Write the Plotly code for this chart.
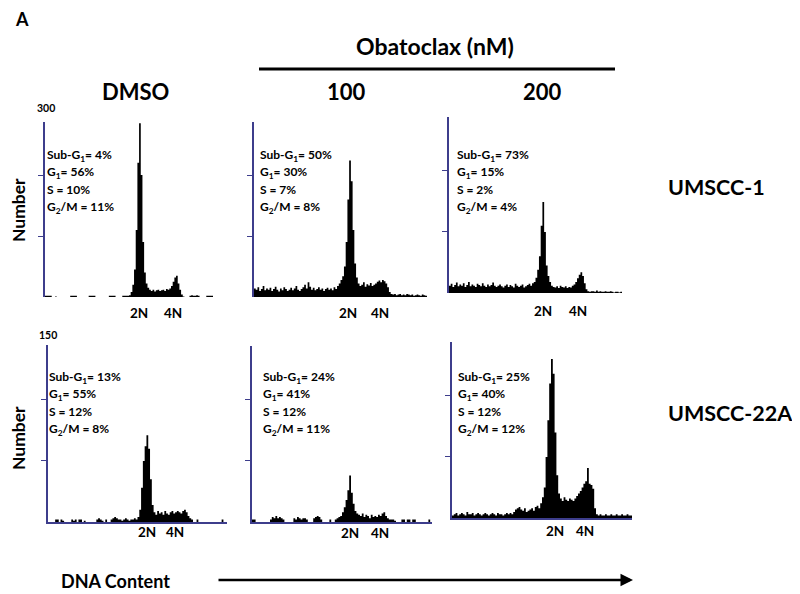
import plotly.graph_objects as go

# ---------------- data ----------------
# DNA-content histograms, 100 channels per panel (2N peak near channel 55, 4N near 75)
hist_dmso_1 = [
    2, 2, 2, 2, 0, 0, 1, 0, 0, 0,
    0, 0, 0, 0, 0, 2, 2, 2, 2, 0,
    0, 0, 0, 0, 0, 0, 2, 2, 2, 2,
    0, 0, 0, 0, 0, 0, 0, 0, 2, 2,
    2, 2, 0, 0, 0, 0, 2, 2, 2, 2,
    3, 8, 20, 45, 110, 220, 285, 200, 90, 40,
    22, 15, 12, 10, 12, 9, 11, 12, 10, 11,
    12, 10, 13, 12, 14, 18, 25, 32, 35, 22,
    12, 4, 1, 0, 0, 0, 2, 3, 2, 2,
    3, 2, 0, 0, 0, 0, 2, 2, 2, 2,
]
hist_100_1 = [
    14, 12, 16, 10, 13, 18, 11, 14, 12, 15,
    10, 13, 17, 12, 9, 14, 11, 16, 13, 10,
    12, 15, 11, 14, 18, 12, 10, 13, 16, 20,
    14, 24, 17, 12, 15, 11, 13, 16, 12, 14,
    10, 13, 15, 12, 14, 11, 16, 13, 18, 22,
    28, 34, 50, 90, 160, 224, 190, 110, 55, 32,
    22, 18, 20, 24, 17, 21, 19, 23, 18, 20,
    22, 25, 27, 24, 28, 26, 22, 16, 8, 5,
    4, 5, 3, 4, 5, 3, 4, 3, 5, 4,
    3, 4, 2, 3, 4, 3, 2, 4, 3, 2,
]
hist_200_1 = [
    12, 15, 10, 13, 17, 11, 14, 12, 16, 10,
    13, 18, 11, 14, 12, 10, 15, 13, 11, 16,
    12, 10, 14, 11, 13, 17, 12, 10, 12, 14,
    11, 9, 12, 14, 10, 13, 11, 9, 15, 12,
    10, 12, 14, 9, 11, 13, 15, 12, 16, 18,
    25, 38, 60, 110, 149, 100, 45, 28, 18, 12,
    10, 9, 11, 8, 12, 10, 9, 11, 8, 10,
    9, 12, 14, 18, 24, 30, 34, 28, 16, 6,
    3, 2, 3, 3, 2, 4, 2, 3, 2, 2,
    3, 2, 2, 3, 2, 1, 2, 2, 1, 2,
]
hist_dmso_22 = [
    0, 0, 0, 0, 2, 2, 0, 2, 1, 0,
    0, 0, 0, 2, 1, 2, 0, 2, 2, 0,
    1, 0, 0, 0, 0, 0, 0, 2, 3, 2,
    1, 0, 2, 0, 0, 2, 3, 4, 3, 2,
    2, 1, 2, 3, 2, 1, 2, 2, 3, 2,
    4, 10, 28, 50, 62, 71, 60, 35, 14, 8,
    6, 9, 7, 8, 6, 9, 7, 6, 8, 9,
    7, 8, 9, 8, 7, 9, 10, 8, 5, 3,
    2, 0, 0, 2, 0, 0, 0, 0, 0, 0,
    0, 0, 0, 0, 0, 0, 0, 2, 0, 0,
]
hist_100_22 = [
    2, 2, 0, 0, 0, 0, 0, 0, 0, 0,
    2, 4, 3, 5, 3, 4, 3, 2, 0, 0,
    0, 0, 0, 3, 2, 4, 3, 2, 3, 3,
    2, 0, 0, 0, 3, 4, 5, 4, 2, 0,
    0, 0, 0, 2, 0, 0, 2, 3, 4, 5,
    8, 12, 18, 26, 38, 24, 15, 9, 7, 6,
    5, 7, 4, 6, 5, 3, 6, 4, 5, 4,
    6, 5, 7, 8, 5, 3, 2, 2, 2, 1,
    0, 0, 0, 2, 2, 0, 2, 2, 0, 2,
    2, 0, 0, 0, 0, 0, 0, 0, 2, 0,
]
hist_200_22 = [
    2, 3, 4, 2, 3, 4, 3, 2, 5, 3,
    3, 4, 2, 3, 4, 3, 2, 3, 4, 3,
    2, 3, 4, 3, 2, 4, 3, 3, 2, 3,
    4, 3, 4, 3, 5, 7, 8, 9, 7, 6,
    8, 5, 6, 7, 8, 6, 9, 10, 8, 12,
    17, 25, 50, 80, 110, 130, 118, 70, 35, 20,
    16, 14, 17, 15, 14, 16, 15, 14, 16, 18,
    20, 22, 25, 28, 30, 41, 28, 27, 24, 8,
    3, 2, 3, 2, 2, 3, 2, 2, 3, 2,
    2, 3, 2, 2, 3, 2, 2, 3, 2, 2,
]

stats_dmso_1 = ["4%", "56%", "10%", "11%"]
stats_100_1 = ["50%", "30%", "7%", "8%"]
stats_200_1 = ["73%", "15%", "2%", "4%"]
stats_dmso_22 = ["13%", "55%", "12%", "8%"]
stats_100_22 = ["24%", "41%", "12%", "11%"]
stats_200_22 = ["25%", "40%", "12%", "12%"]

columns = ["DMSO", "100", "200"]
cell_lines = ["UMSCC-1", "UMSCC-22A"]
row_ticks = [[100, 200], [50, 100]]
row_top_labels = ["300", "150"]

# ---------------- layout helpers ----------------
# the page body has an 8px margin, so the figure is drawn 8px smaller and
# all window-pixel positions are shifted by that offset
OFF = 8
W, H = 800 - OFF, 594 - OFF
NAVY = "#3d3d8c"
FONT = "Lato"


def fx(p):
    return (p - OFF) / W


def fy(p):
    return 1 - (p - OFF) / H


# panel geometry in window pixels: (left, right, top, bottom, ymax)
panels = [
    (hist_dmso_1, stats_dmso_1, (45, 213, 122, 297, 287), 0, (139, 173, 313), (46, 155)),
    (hist_100_1, stats_100_1, (254, 427, 122, 297, 287), 0, (348, 380, 313), (259, 155)),
    (hist_200_1, stats_200_1, (449, 622, 117, 293, 288), 0, (543, 578, 311), (456, 155)),
    (hist_dmso_22, stats_dmso_22, (48, 227, 345, 522, 145), 1, (147, 175, 532), (48, 377)),
    (hist_100_22, stats_100_22, (252, 432, 346, 522, 144), 1, (350, 380, 533), (262, 377)),
    (hist_200_22, stats_200_22, (452, 632, 342, 518, 144), 1, (555, 585, 531), (457, 377)),
]

fig = go.Figure()
annotations = []
stat_names = ["Sub-G<sub>1</sub>= ", "G<sub>1</sub>= ", "S = ", "G<sub>2</sub>/M = "]


def label(text, x, y, size, xanchor="center", yanchor="middle", angle=0):
    annotations.append(dict(
        x=fx(x), y=fy(y), xref="paper", yref="paper", text=text, showarrow=False,
        xanchor=xanchor, yanchor=yanchor, textangle=angle, borderpad=0,
        font=dict(family=FONT, size=size, color="black"),
    ))


for i, (hist, stats, (l, r, t, b, ymax), row, (x2n, x4n, ylab), (sx, sy)) in enumerate(panels):
    sfx = "" if i == 0 else str(i + 1)
    xs = list(range(len(hist))) + [len(hist)]
    ys = list(hist) + [hist[-1]]
    fig.add_trace(go.Scatter(
        x=xs, y=ys, mode="lines", line=dict(shape="hv", width=0, color="black"),
        fill="tozeroy", fillcolor="black", xaxis="x" + sfx, yaxis="y" + sfx,
        hoverinfo="skip", showlegend=False,
    ))
    fig.layout["xaxis" + sfx] = dict(
        domain=[fx(l), fx(r)], range=[0, len(hist)], anchor="y" + sfx,
        showticklabels=False, showgrid=False, zeroline=False, ticks="",
        showline=(row == 1), linecolor=NAVY, linewidth=1.5, fixedrange=True,
    )
    fig.layout["yaxis" + sfx] = dict(
        domain=[fy(b), fy(t)], range=[0, ymax], anchor="x" + sfx,
        tickvals=row_ticks[row], ticks="outside", ticklen=5, tickcolor=NAVY, tickwidth=1,
        showticklabels=False, showgrid=False, zeroline=False,
        showline=True, linecolor=NAVY, linewidth=1.5, fixedrange=True,
    )
    for k, (nm, v) in enumerate(zip(stat_names, stats)):
        label("<b>" + nm + v + "</b>", sx, sy + k * 17.4, 12, xanchor="left")
    label("<b>2N</b>", x2n, ylab, 13.5)
    label("<b>4N</b>", x4n, ylab, 13.5)

label("<b>" + row_top_labels[0] + "</b>", 46, 108, 10.5)
label("<b>" + row_top_labels[1] + "</b>", 48, 335, 10.5)

for yy in (210, 438):
    label("<b>Number</b>", 18, yy, 17.5, angle=-90)

for txt, xx in zip(columns, (135, 346, 542)):
    label("<b>" + txt + "</b>", xx, 91, 22)

label("<b>Obatoclax (nM)</b>", 435, 46, 23)
label("<b>A</b>", 22, 19, 18)

for txt, yy in zip(cell_lines, (187, 413)):
    label("<b>" + txt + "</b>", 667, yy, 21.5, xanchor="left")

label("<b>DNA Content</b>", 116, 581, 18)
annotations.append(dict(x=fx(633), y=fy(580), xref="paper", yref="paper", text="",
                        showarrow=True, ax=-(633 - 217), ay=0, axref="pixel", ayref="pixel",
                        arrowhead=2, arrowsize=1, arrowwidth=2.5, arrowcolor="black"))

shapes = [dict(type="line", xref="paper", yref="paper", x0=fx(259), x1=fx(615), y0=fy(69), y1=fy(69),
               line=dict(color="black", width=3))]

fig.update_layout(
    width=W, height=H, margin=dict(l=0, r=0, t=0, b=0),
    paper_bgcolor="white", plot_bgcolor="white",
    annotations=annotations, shapes=shapes, showlegend=False,
)

fig.write_html("out.html")
